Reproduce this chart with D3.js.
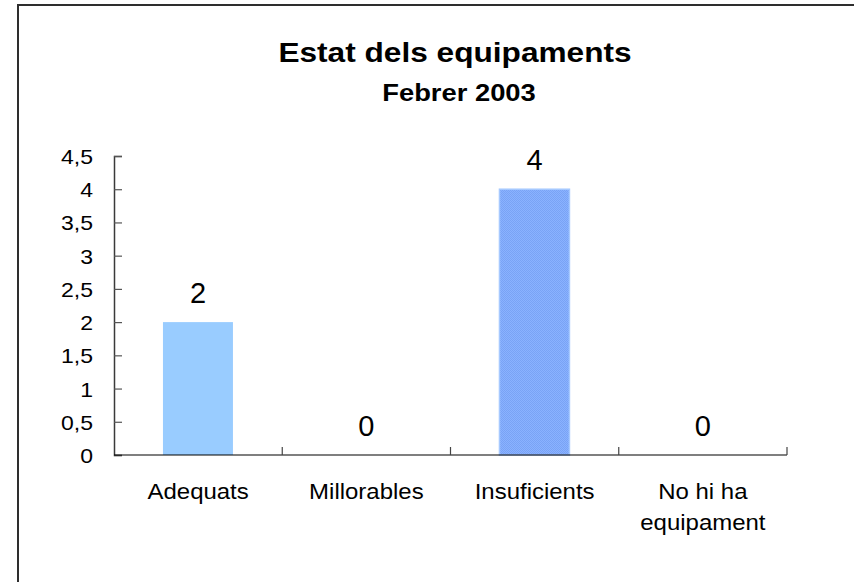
<!DOCTYPE html>
<html>
<head>
<meta charset="utf-8">
<script src="https://cdn.jsdelivr.net/npm/d3@7"></script>
<style>
  body { margin: 0; background: #fff; }
  text { font-family: "Liberation Sans", Arial, sans-serif; }
</style>
</head>
<body>
<div id="chart"></div>
<script>
// Data
const categories = ["Adequats", "Millorables", "Insuficients", "No hi ha equipament"]
const values = [2, 0, 4, 0]
const yTicks = [0, 0.5, 1, 1.5, 2, 2.5, 3, 3.5, 4, 4.5]
const titleLines = ["Estat dels equipaments", "Febrer 2003"]

// Environment
const width = 854
const height = 582
const plot = { left: 114, right: 787, top: 156, bottom: 455 }
const stretch = 1.13   // text in the original is a bit wider than Arial

let svg = d3.select("#chart")
    .append("svg")
    .attr("width", width)
    .attr("height", height)

// pattern for the textured bar
let defs = svg.append("defs")
let pat = defs.append("pattern")
    .attr("id", "dots")
    .attr("width", 2).attr("height", 2)
    .attr("patternUnits", "userSpaceOnUse")
pat.append("rect").attr("width", 2).attr("height", 2).attr("fill", "#8ab2ff")
pat.append("rect").attr("width", 1).attr("height", 1).attr("fill", "#79a3f5")
pat.append("rect").attr("x", 1).attr("y", 1).attr("width", 1).attr("height", 1).attr("fill", "#79a3f5")

// Outer frame (runs off right / bottom edges)
svg.append("rect")
    .attr("x", 18).attr("y", 5)
    .attr("width", 900).attr("height", 700)
    .attr("fill", "none")
    .attr("stroke", "#2e2e2e")
    .attr("stroke-width", 2)

// Titles
svg.append("text")
    .attr("transform", `translate(455,62) scale(${stretch},1)`)
    .attr("text-anchor", "middle")
    .style("font-size", "28px").style("font-weight", "bold")
    .text(titleLines[0])
svg.append("text")
    .attr("transform", `translate(459,101) scale(1.14,1)`)
    .attr("text-anchor", "middle")
    .style("font-size", "24px").style("font-weight", "bold")
    .text(titleLines[1])

// Scales
const x = d3.scaleBand()
    .domain(categories)
    .range([plot.left, plot.right])
    .paddingInner(0).paddingOuter(0)
const y = d3.scaleLinear()
    .domain([0, 4.5])
    .range([plot.bottom, plot.top])

const bw = x.bandwidth()
const barX = d => x(d) + bw * 0.291
const barW = bw * 0.416

// Bars
svg.append("g").attr("id", "bars")
    .selectAll("rect")
    .data(categories)
    .enter()
    .append("rect")
    .attr("x", d => barX(d))
    .attr("width", barW)
    .attr("y", (d, i) => y(values[i]))
    .attr("height", (d, i) => y(0) - y(values[i]))
    .attr("fill", (d, i) => i === 2 ? "url(#dots)" : "#99ccff")
    .attr("stroke", (d, i) => i === 2 ? "#a6c9ff" : "none")
    .attr("stroke-width", 1.5)

// Value labels
svg.append("g").attr("id", "values")
    .selectAll("text")
    .data(categories)
    .enter()
    .append("text")
    .attr("transform", (d, i) => `translate(${x(d) + bw / 2},${y(values[i]) - 19})`)
    .attr("text-anchor", "middle")
    .style("font-size", "29px")
    .text((d, i) => values[i])

// Y axis
let yAxis = svg.append("g")
    .attr("transform", `translate(${plot.left},0)`)
    .call(d3.axisLeft(y)
        .tickValues(yTicks)
        .tickSize(-8)
        .tickPadding(21)
        .tickFormat(d => String(d).replace(".", ",")))
yAxis.select(".domain").attr("stroke", "#3a3a3a").attr("stroke-width", 1.5)
yAxis.selectAll(".tick line").attr("stroke", "#555").attr("stroke-width", 1.2)
yAxis.selectAll(".tick text")
    .style("font-size", "20px")
    .attr("fill", "#000")
    .attr("x", null)
    .attr("dy", null)
    .attr("transform", `translate(-21,7.5) scale(1.15,1)`)

// X axis baseline and ticks
let xAxis = svg.append("g").attr("id", "x-axis")
xAxis.append("line")
    .attr("x1", plot.left).attr("x2", plot.right)
    .attr("y1", y(0)).attr("y2", y(0))
    .attr("stroke", "#000").attr("stroke-opacity", 0.5)
    .attr("stroke-width", 2)
xAxis.selectAll("line.tick")
    .data(categories.slice(1).concat([null]))
    .enter()
    .append("line")
    .attr("class", "tick")
    .attr("x1", d => d ? x(d) : plot.right)
    .attr("x2", d => d ? x(d) : plot.right)
    .attr("y1", y(0)).attr("y2", y(0) - 8)
    .attr("stroke", "#444").attr("stroke-width", 1.2)

// Category labels (wrap long label)
const catLines = {
    "No hi ha equipament": ["No hi ha", "equipament"]
}
xAxis.selectAll("text.cat")
    .data(categories)
    .enter()
    .append("text")
    .attr("class", "cat")
    .attr("text-anchor", "middle")
    .attr("transform", d => `translate(${x(d) + bw / 2},${y(0) + 44}) scale(1.09,1)`)
    .style("font-size", "22px")
    .each(function (d) {
        const lines = catLines[d] || [d]
        d3.select(this).selectAll("tspan")
            .data(lines)
            .enter()
            .append("tspan")
            .attr("x", 0)
            .attr("y", (l, j) => j * 31)
            .text(l => l)
    })
</script>
</body>
</html>
